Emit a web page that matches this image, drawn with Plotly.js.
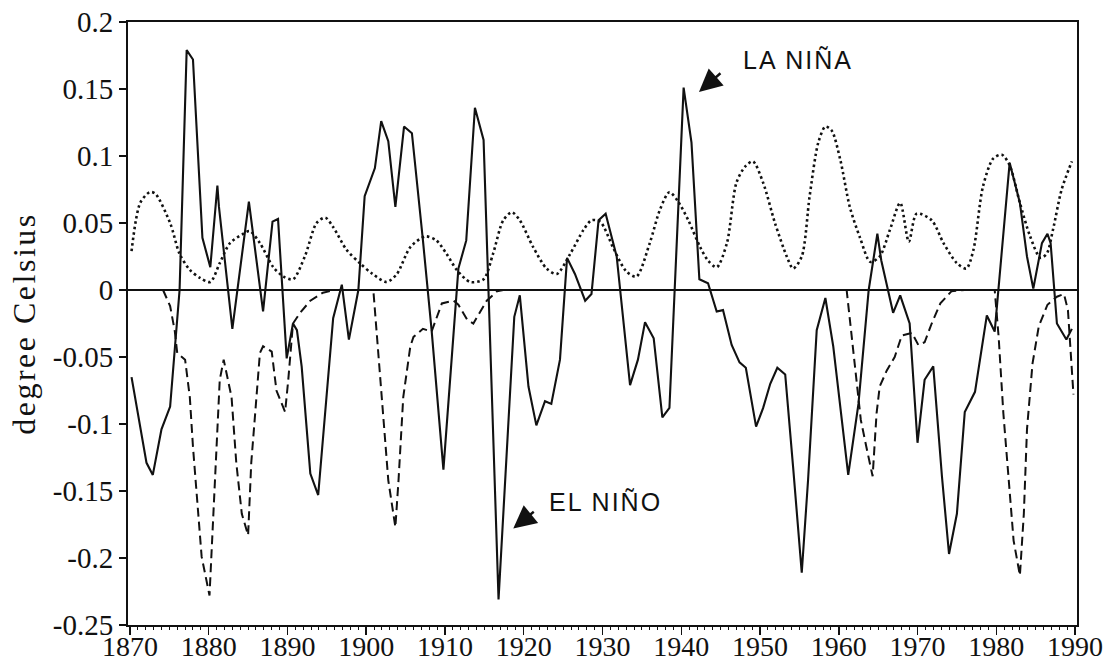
<!DOCTYPE html>
<html>
<head>
<meta charset="utf-8">
<script src="https://cdn.plot.ly/plotly-3.0.1.min.js"></script>
<style>html,body{margin:0;padding:0;background:#fff;}</style>
</head>
<body>
<div id="chart" style="width:1109px;height:665px;"></div>
<script>
// Solid line: annual temperature signal (degree Celsius)
const solidYears = [1870.2,1872.1,1872.9,1874.0,1875.1,1876.3,1877.2,1878.0,1879.2,1880.2,1881.1,1881.3,1883.0,1885.1,1886.9,1888.1,1888.8,1889.9,1890.7,1891.2,1891.8,1892.9,1893.9,1894.8,1895.8,1896.9,1897.8,1899.0,1899.8,1901.1,1901.9,1902.8,1903.7,1904.8,1905.8,1907.2,1908.3,1909.8,1911.7,1912.7,1913.8,1914.9,1916.8,1918.8,1919.5,1920.6,1921.6,1922.7,1923.5,1924.6,1925.5,1926.5,1927.8,1928.6,1929.5,1930.4,1931.8,1933.5,1934.5,1935.4,1936.5,1937.6,1938.5,1940.3,1941.3,1942.3,1943.4,1944.5,1945.3,1946.4,1947.4,1948.2,1949.5,1950.4,1951.3,1952.2,1953.2,1954.2,1955.3,1956.1,1957.2,1958.3,1959.3,1961.2,1962.5,1963.8,1964.9,1965.4,1966.9,1967.8,1969.0,1970.0,1970.9,1972.0,1973.1,1974.0,1975.0,1976.0,1977.3,1978.8,1979.8,1981.7,1983.0,1983.9,1984.7,1985.8,1986.5,1986.9,1987.7,1988.9,1989.6];
const solidVals = [-0.065,-0.129,-0.138,-0.104,-0.087,0.000,0.179,0.172,0.039,0.017,0.078,0.062,-0.029,0.066,-0.016,0.051,0.053,-0.051,-0.025,-0.030,-0.057,-0.137,-0.153,-0.092,-0.021,0.004,-0.037,0.000,0.070,0.091,0.126,0.111,0.062,0.122,0.117,0.037,-0.030,-0.134,0.016,0.037,0.136,0.112,-0.231,-0.020,-0.004,-0.072,-0.101,-0.083,-0.085,-0.052,0.024,0.012,-0.008,-0.003,0.052,0.057,0.025,-0.071,-0.052,-0.024,-0.036,-0.095,-0.088,0.151,0.110,0.008,0.005,-0.016,-0.015,-0.041,-0.054,-0.058,-0.102,-0.088,-0.070,-0.058,-0.063,-0.132,-0.211,-0.142,-0.030,-0.006,-0.042,-0.138,-0.085,0.000,0.042,0.022,-0.017,-0.004,-0.025,-0.114,-0.067,-0.057,-0.139,-0.197,-0.167,-0.091,-0.076,-0.019,-0.031,0.095,0.065,0.025,0.001,0.035,0.042,0.035,-0.025,-0.037,-0.029];

// Dashed line: El Nino component
const dashYears = [1874.2,1875.1,1875.7,1876.0,1877.0,1877.6,1878.0,1878.7,1879.1,1880.1,1880.6,1881.0,1881.4,1881.9,1882.9,1883.5,1884.2,1885.0,1885.4,1885.9,1886.5,1886.9,1888.0,1888.6,1889.7,1890.1,1890.7,1891.6,1892.9,1894.5,1896.0,1900.9,1901.3,1902.2,1902.8,1903.7,1904.1,1904.7,1905.6,1906.0,1907.2,1908.3,1909.6,1911.1,1911.7,1912.8,1913.6,1914.4,1915.3,1916.6,1917.4,1961.0,1961.8,1962.4,1962.8,1963.5,1964.3,1964.8,1965.2,1966.1,1967.1,1968.0,1969.3,1970.1,1970.9,1971.8,1972.9,1974.3,1976.0,1979.8,1980.3,1980.9,1981.6,1982.2,1983.0,1983.5,1983.9,1984.6,1985.4,1986.5,1987.7,1988.6,1989.1,1989.4,1989.8];
const dashVals = [0,-0.012,-0.031,-0.047,-0.052,-0.080,-0.117,-0.167,-0.199,-0.228,-0.167,-0.117,-0.067,-0.052,-0.080,-0.129,-0.167,-0.183,-0.129,-0.092,-0.047,-0.042,-0.046,-0.075,-0.091,-0.067,-0.025,-0.017,-0.008,-0.002,0,0,-0.030,-0.092,-0.142,-0.177,-0.142,-0.080,-0.042,-0.035,-0.029,-0.031,-0.010,-0.008,-0.011,-0.022,-0.025,-0.017,-0.008,-0.001,0,0,-0.042,-0.075,-0.097,-0.117,-0.139,-0.092,-0.072,-0.060,-0.050,-0.034,-0.032,-0.041,-0.039,-0.025,-0.010,-0.001,0,0,-0.035,-0.092,-0.147,-0.187,-0.213,-0.167,-0.104,-0.055,-0.027,-0.011,-0.005,-0.003,-0.015,-0.042,-0.078];

// Dotted line: low-frequency oscillation
const dotYears = [1870.2,1871.3,1872.5,1873.2,1875.1,1876.3,1877.6,1878.9,1880.2,1881.4,1882.7,1884.4,1885.2,1886.5,1888.2,1889.5,1890.7,1892.2,1893.7,1894.8,1895.8,1897.5,1899.2,1900.8,1902.6,1903.9,1905.6,1907.5,1908.9,1910.2,1911.5,1913.2,1914.9,1916.1,1917.4,1918.5,1919.5,1921.2,1922.9,1924.2,1925.9,1927.6,1928.6,1929.7,1931.4,1933.0,1934.3,1936.0,1937.3,1938.5,1939.6,1940.9,1942.4,1943.4,1944.5,1945.8,1947.0,1948.1,1949.1,1950.4,1951.9,1953.4,1954.2,1955.3,1956.3,1957.4,1958.3,1959.1,1960.2,1961.4,1962.7,1964.0,1965.2,1966.5,1967.8,1968.9,1969.9,1971.8,1973.3,1975.0,1976.2,1977.1,1978.3,1979.6,1980.7,1981.7,1983.0,1984.3,1985.6,1986.4,1987.2,1988.3,1989.6];
const dotVals = [0.029,0.065,0.073,0.072,0.050,0.027,0.015,0.009,0.006,0.020,0.035,0.042,0.044,0.035,0.017,0.010,0.008,0.025,0.050,0.054,0.047,0.030,0.020,0.012,0.006,0.012,0.032,0.040,0.037,0.027,0.015,0.006,0.008,0.027,0.052,0.058,0.052,0.032,0.016,0.012,0.027,0.045,0.052,0.051,0.031,0.014,0.010,0.035,0.060,0.073,0.066,0.052,0.032,0.022,0.017,0.035,0.080,0.092,0.096,0.080,0.050,0.025,0.016,0.025,0.070,0.110,0.122,0.119,0.097,0.062,0.039,0.021,0.025,0.045,0.065,0.036,0.057,0.052,0.035,0.020,0.016,0.030,0.077,0.098,0.101,0.093,0.065,0.040,0.024,0.027,0.045,0.075,0.096];

// Axis ticks
const xTickVals = [1870,1880,1890,1900,1910,1920,1930,1940,1950,1960,1970,1980,1990];
const xTickText = ['1870','1880','1890','1900','1910','1920','1930','1940','1950','1960','1970','1980','1990'];
const yTickVals = [0.2,0.15,0.1,0.05,0,-0.05,-0.1,-0.15,-0.2,-0.25];
const yTickText = ['0.2','0.15','0.1','0.05','0','-0.05','-0.1','-0.15','-0.2','-0.25'];

const traces = [
  {x: dotYears, y: dotVals, type:'scatter', mode:'lines',
   line:{color:'#111', width:2.6, dash:'2.5px,3px', shape:'spline', smoothing:0.8}, hoverinfo:'skip'},
  {x: dashYears, y: dashVals, type:'scatter', mode:'lines',
   line:{color:'#111', width:2, dash:'9px,5px'}, hoverinfo:'skip'},
  {x: solidYears, y: solidVals, type:'scatter', mode:'lines',
   line:{color:'#111', width:2.1}, hoverinfo:'skip'}
];

const serif = 'Liberation Serif, Times New Roman, serif';
const hand = 'Liberation Sans, DejaVu Sans, sans-serif';

const layout = {
  width:1109, height:665,
  margin:{l:128, r:32, t:22, b:40, pad:0},
  paper_bgcolor:'#fff', plot_bgcolor:'#fff',
  showlegend:false,
  xaxis:{
    range:[1869.75, 1990.25],
    tickmode:'array', tickvals:xTickVals, ticktext:xTickText,
    ticks:'outside', ticklen:8, tickwidth:1.5, tickcolor:'#111',
    ticklabelstandoff:-13, tickangle:0,
    minor:{tickmode:'linear', tick0:1870, dtick:1, ticks:'outside', ticklen:3, tickwidth:1, tickcolor:'#111', showgrid:false},
    showline:true, mirror:true, linecolor:'#111', linewidth:2,
    showgrid:false, zeroline:false,
    tickfont:{family:serif, size:28, color:'#111'}
  },
  yaxis:{
    range:[-0.25, 0.2],
    tickmode:'array', tickvals:yTickVals, ticktext:yTickText,
    ticks:'outside', ticklen:7, tickwidth:1.5, tickcolor:'#111',
    showline:true, mirror:true, linecolor:'#111', linewidth:2,
    showgrid:false,
    zeroline:true, zerolinecolor:'#111', zerolinewidth:2,
    tickfont:{family:serif, size:29, color:'#111'},
    title:{text:'<span style="letter-spacing:2.5px">degree Celsius</span>', font:{family:serif, size:32, color:'#111'}, standoff:8}
  },
  annotations:[
    {x:1954.76, y:0.1716, xref:'x', yref:'y', text:'<span style="letter-spacing:2px">LA NIÑA</span>', showarrow:false,
     font:{family:hand, size:25, color:'#111'}},
    {x:1942.25, y:0.1478, xref:'x', yref:'y', text:'', showarrow:true, ax:23, ay:-20,
     arrowhead:2, arrowsize:1.9, arrowwidth:2.4, arrowcolor:'#111'},
    {x:1930.44, y:-0.158, xref:'x', yref:'y', text:'<span style="letter-spacing:2px">EL NIÑO</span>', showarrow:false,
     font:{family:hand, size:25, color:'#111'}},
    {x:1918.67, y:-0.178, xref:'x', yref:'y', text:'', showarrow:true, ax:22, ay:-18,
     arrowhead:2, arrowsize:1.9, arrowwidth:2.4, arrowcolor:'#111'}
  ]
};

Plotly.newPlot('chart', traces, layout, {staticPlot:true, displayModeBar:false});
</script>
</body>
</html>
